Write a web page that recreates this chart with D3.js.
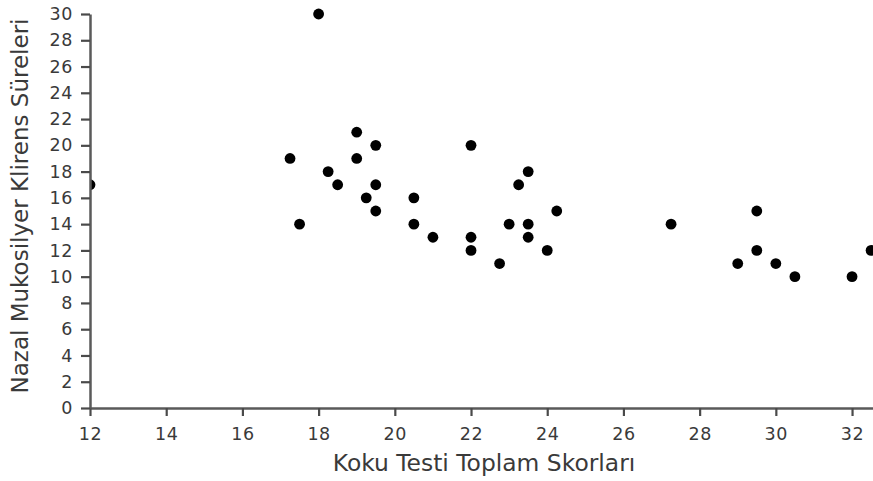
<!DOCTYPE html>
<html>
<head>
<meta charset="utf-8">
<script src="https://cdn.jsdelivr.net/npm/d3@7"></script>
<style>
  html, body { margin: 0; padding: 0; background: #fff; }
  svg { display: block; }
  text { font-family: "DejaVu Sans", Verdana, sans-serif; fill: #3a3a3a; }
</style>
</head>
<body>
<svg id="chart" width="873" height="481"></svg>
<script>
// Olfactory test total score vs. nasal mucociliary clearance time
const kokuSkor = [12, 18, 17.25, 17.5, 18.25, 18.5, 19, 19, 19.5, 19.25, 19.5, 19.5,
  20.5, 20.5, 21, 22, 22, 22, 22.75, 23, 23.25, 23.5, 23.5, 23.5, 24.25, 24,
  27.25, 29, 29.5, 29.5, 30, 30.5, 32, 32.5];
const klirensSure = [17, 30, 19, 14, 18, 17, 21, 19, 20, 16, 17, 15,
  16, 14, 13, 20, 13, 12, 11, 14, 17, 18, 14, 13, 15, 12,
  14, 11, 15, 12, 11, 10, 10, 12];
const xTicks = [12, 14, 16, 18, 20, 22, 24, 26, 28, 30, 32];
const yTicks = [0, 2, 4, 6, 8, 10, 12, 14, 16, 18, 20, 22, 24, 26, 28, 30];
const xTitle = "Koku Testi Toplam Skorları";
const yTitle = "Nazal Mukosilyer Klirens Süreleri";

const svg = d3.select("#chart");
const plot = { left: 90, right: 873, top: 14, bottom: 408 };

const x = d3.scaleLinear().domain([12, 32.55]).range([plot.left, plot.right]);
const y = d3.scaleLinear().domain([0, 30]).range([plot.bottom, plot.top]);

svg.append("clipPath").attr("id", "plotClip")
  .append("rect").attr("x", plot.left).attr("y", 0)
  .attr("width", plot.right - plot.left).attr("height", plot.bottom + 6);

svg.append("g").attr("clip-path", "url(#plotClip)")
  .selectAll("circle")
  .data(kokuSkor.map((v, i) => [v, klirensSure[i]]))
  .join("circle")
  .attr("cx", d => x(d[0]))
  .attr("cy", d => y(d[1]))
  .attr("r", 5.4)
  .attr("fill", "#000");

const xAxis = svg.append("g")
  .attr("transform", `translate(0,${plot.bottom})`)
  .call(d3.axisBottom(x).tickValues(xTicks).tickSize(8).tickPadding(12).tickSizeOuter(0));
const yAxis = svg.append("g")
  .attr("transform", `translate(${plot.left},0)`)
  .call(d3.axisLeft(y).tickValues(yTicks).tickSize(9).tickPadding(8).tickSizeOuter(0));

[xAxis, yAxis].forEach(g => {
  g.select(".domain").attr("stroke", "#5a5a5a").attr("stroke-width", 2.5);
  g.selectAll(".tick line").attr("stroke", "#4a4a4a").attr("stroke-width", 2.2);
  g.selectAll(".tick text").style("font-size", "17.5px").attr("fill", "#333")
    .style("letter-spacing", "0.6px")
    .style("font-family", "\"DejaVu Sans\", Verdana, sans-serif");
});

svg.append("text")
  .attr("x", 484)
  .attr("y", 471)
  .attr("text-anchor", "middle")
  .style("font-size", "23.4px")
  .text(xTitle);

svg.append("text")
  .attr("transform", `translate(28,206) rotate(-90)`)
  .attr("text-anchor", "middle")
  .style("font-size", "23px")
  .text(yTitle);
</script>
</body>
</html>
